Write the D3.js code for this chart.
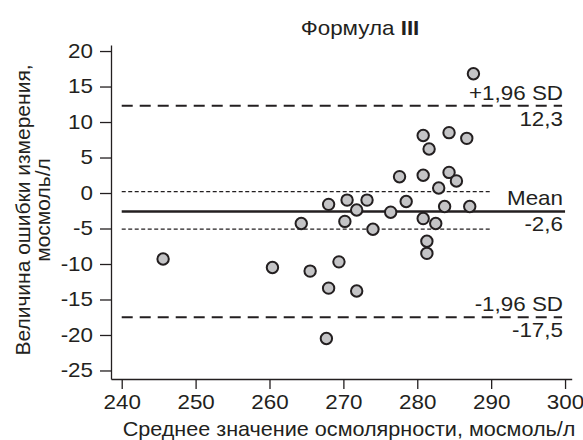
<html>
    <head>
        <meta charset="utf-8">
        <title>Формула III</title>
        <style>
            body { margin: 0; background: #fff; }
        </style>
    </head>
    <body>

        <div id="chart-area"></div>

        <script src="https://d3js.org/d3.v7.min.js"></script>

        <script>

            // data
            const meanValues = [245.6, 260.4, 264.3, 265.5, 267.7, 268.0, 268.0, 269.4, 270.2, 270.5,
                                271.8, 271.8, 273.2, 274.0, 276.4, 277.6, 278.5, 280.8, 280.8, 280.8,
                                281.6, 281.3, 281.3, 282.5, 282.9, 283.7, 284.3, 284.3, 285.3, 286.7,
                                287.1, 287.6]
            const diffValues = [-9.3, -10.5, -4.3, -11.0, -20.5, -13.4, -1.6, -9.7, -4.0, -1.0,
                                -2.4, -13.8, -1.0, -5.1, -2.7, 2.3, -1.2, 8.1, 2.5, -3.6,
                                6.2, -6.8, -8.5, -4.3, 0.7, -1.9, 8.5, 2.9, 1.7, 7.7,
                                -1.9, 16.8]
            const meanDiff = -2.6
            const upperLimit = 12.3
            const lowerLimit = -17.5
            const meanCI = [0.2, -5.1]
            const xTicks = [240, 250, 260, 270, 280, 290, 300]
            const yTicks = [20, 15, 10, 5, 0, -5, -10, -15, -20, -25]

            const FONT = "'Liberation Sans', Arial, Helvetica, sans-serif"
            const INK = "#231f20"
            const SIZE = "20px"
            const SX = 1.12   // the picture's lettering is a little wide

            const svg = d3.select("#chart-area")
                .append("svg")
                    .attr("width", 583)
                    .attr("height", 440)

            const x = d3.scaleLinear()
                .domain([238.55, 300.9])
                .range([111, 571.7])

            const y = d3.scaleLinear()
                .domain([-26.2, 20.85])
                .range([379, 45])

            // horizontal text, slightly widened
            function label(px, py, anchor, sx = SX) {
                return svg.append("text")
                    .attr("transform", `translate(${px}, ${py}) scale(${sx}, 1)`)
                    .attr("text-anchor", anchor)
                    .attr("font-family", FONT)
                    .attr("font-size", SIZE)
                    .attr("fill", INK)
            }

            // title
            const title = label(360, 35, "middle")
            title.append("tspan").text("Формула ")
            title.append("tspan").attr("font-weight", "bold").text("III")

            // axes
            const xAxis = d3.axisBottom(x)
                .tickValues(xTicks)
                .tickFormat(d => String(d))
                .tickSize(10)
                .tickSizeOuter(0)
                .tickPadding(6)

            const gx = svg.append("g")
                .attr("transform", `translate(0, ${y.range()[0]})`)
                .call(xAxis)
            gx.selectAll("path, line").attr("stroke", INK).attr("stroke-width", 1.3)
            gx.selectAll("text")
                .attr("font-family", FONT)
                .attr("font-size", SIZE)
                .attr("fill", INK)
                .attr("transform", `scale(${SX}, 1)`)

            const yAxis = d3.axisLeft(y)
                .tickValues(yTicks)
                .tickFormat(d => String(d))   // plain hyphen, as in the picture
                .tickSize(11)
                .tickSizeOuter(0)
                .tickPadding(7)

            const gy = svg.append("g")
                .attr("transform", `translate(${x.range()[0]}, 0)`)
                .call(yAxis)
            gy.selectAll("path, line").attr("stroke", INK).attr("stroke-width", 1.3)
            gy.selectAll("text")
                .attr("font-family", FONT)
                .attr("font-size", SIZE)
                .attr("fill", INK)
                .attr("x", -18 / SX)
                .attr("transform", `scale(${SX}, 1)`)

            // axis titles
            label(349, 436, "middle", 1.08).text("Среднее значение осмолярности, мосмоль/л")

            const yTitle = svg.append("text")
                .attr("transform", "rotate(-90)")
                .attr("text-anchor", "middle")
                .attr("font-family", FONT)
                .attr("font-size", "21px")
                .attr("fill", INK)
            yTitle.append("tspan").attr("x", -210).attr("y", 30).text("Величина ошибки измерения,")
            yTitle.append("tspan").attr("x", -210).attr("y", 50).text("мосмоль/л")

            // confidence interval of the mean (thin dashes)
            meanCI.forEach(v => {
                svg.append("line")
                    .attr("x1", x(240)).attr("x2", x(290))
                    .attr("y1", y(v)).attr("y2", y(v))
                    .attr("stroke", INK)
                    .attr("stroke-width", 1.3)
                    .attr("stroke-dasharray", "4,2.5")
            })

            // limits of agreement
            ;[upperLimit, lowerLimit].forEach(v => {
                svg.append("line")
                    .attr("x1", x(240)).attr("x2", x(299.6))
                    .attr("y1", y(v)).attr("y2", y(v))
                    .attr("stroke", INK)
                    .attr("stroke-width", 2)
                    .attr("stroke-dasharray", "11,7")
            })

            // mean line
            svg.append("line")
                .attr("x1", x(240)).attr("x2", x(300))
                .attr("y1", y(meanDiff)).attr("y2", y(meanDiff))
                .attr("stroke", INK)
                .attr("stroke-width", 2.6)

            // line labels
            const labels = [
                { top: "+1,96 SD", bottom: "12,3", v: upperLimit },
                { top: "Mean", bottom: "-2,6", v: meanDiff },
                { top: "-1,96 SD", bottom: "-17,5", v: lowerLimit }
            ]
            labels.forEach(l => {
                label(563, y(l.v) - 6, "end").text(l.top)
                label(563, y(l.v) + 20, "end").text(l.bottom)
            })

            // points
            svg.selectAll("circle")
                .data(meanValues.map((m, i) => ({ m: m, d: diffValues[i] })))
                .enter()
                .append("circle")
                    .attr("cx", d => x(d.m))
                    .attr("cy", d => y(d.d))
                    .attr("r", 5.7)
                    .attr("fill", "#c4c4c6")
                    .attr("stroke", INK)
                    .attr("stroke-width", 2)

        </script>
    </body>
</html>
